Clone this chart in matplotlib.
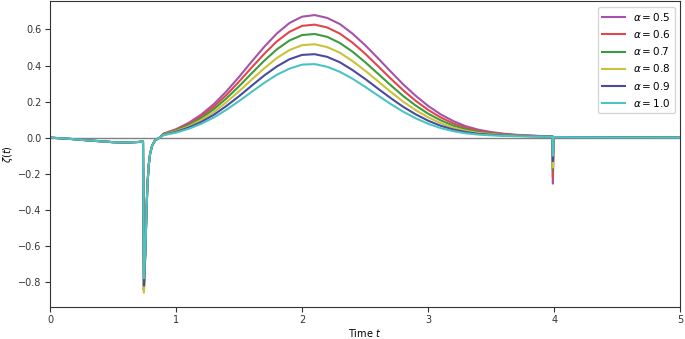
import matplotlib
matplotlib.use("Agg")
import matplotlib.pyplot as plt

alphas = [0.5, 0.6, 0.7, 0.8, 0.9, 1.0]
colors = ["#a553a8", "#e0474c", "#3e9a40", "#cbc23a", "#4a4aa0", "#4cc3c3"]

# slow dip before the first kick (shared by all curves)
t_pre = [0.0, 0.1, 0.2, 0.3, 0.4, 0.5, 0.6, 0.7, 0.738]
zeta_pre = [0.0, -0.004, -0.009, -0.015, -0.02, -0.025, -0.027, -0.024, -0.022]

# depth of the sharp drop near t = 0.745
t_tip = 0.745
tip_depth = [-0.84, -0.845, -0.85, -0.86, -0.82, -0.78]

# recovery after the drop
t_rec = [0.757, 0.765, 0.772, 0.782, 0.794, 0.81, 0.833, 0.87]
zeta_rec = [-0.62, -0.42, -0.28, -0.16, -0.09, -0.045, -0.015, 0.0]

# main hump
t_hump = [0.9, 1.0, 1.1, 1.2, 1.3, 1.4, 1.5, 1.6, 1.7, 1.8, 1.9, 2.0,
          2.1, 2.2, 2.3, 2.4, 2.5, 2.6, 2.7, 2.8, 2.9, 3.0, 3.1, 3.2,
          3.3, 3.4, 3.5, 3.6, 3.7, 3.8, 3.9]
hump_05 = [0.022, 0.047, 0.082, 0.128, 0.186, 0.257, 0.337, 0.422, 0.504, 0.578, 0.636, 0.671,
           0.680, 0.664, 0.630, 0.577, 0.513, 0.442, 0.369, 0.297, 0.233, 0.176, 0.129, 0.092,
           0.063, 0.044, 0.031, 0.022, 0.016, 0.012, 0.009]
hump_06 = [0.021, 0.043, 0.075, 0.118, 0.172, 0.237, 0.311, 0.389, 0.465, 0.534, 0.587, 0.620,
           0.627, 0.611, 0.577, 0.527, 0.466, 0.398, 0.330, 0.264, 0.205, 0.154, 0.112, 0.079,
           0.054, 0.037, 0.026, 0.019, 0.014, 0.011, 0.008]
hump_07 = [0.019, 0.040, 0.069, 0.108, 0.158, 0.218, 0.285, 0.357, 0.427, 0.490, 0.539, 0.569,
           0.575, 0.559, 0.525, 0.477, 0.419, 0.356, 0.293, 0.232, 0.179, 0.133, 0.096, 0.067,
           0.046, 0.031, 0.022, 0.016, 0.012, 0.010, 0.008]
hump_08 = [0.017, 0.036, 0.062, 0.098, 0.142, 0.197, 0.257, 0.322, 0.385, 0.442, 0.486, 0.513,
           0.518, 0.502, 0.471, 0.425, 0.372, 0.314, 0.256, 0.201, 0.153, 0.113, 0.080, 0.055,
           0.038, 0.026, 0.019, 0.014, 0.011, 0.009, 0.007]
hump_09 = [0.015, 0.032, 0.056, 0.087, 0.127, 0.176, 0.230, 0.288, 0.345, 0.395, 0.435, 0.459,
           0.463, 0.448, 0.418, 0.375, 0.326, 0.273, 0.221, 0.172, 0.130, 0.094, 0.066, 0.045,
           0.031, 0.021, 0.016, 0.012, 0.010, 0.008, 0.007]
hump_10 = [0.014, 0.028, 0.049, 0.077, 0.112, 0.155, 0.203, 0.254, 0.304, 0.349, 0.383, 0.405,
           0.408, 0.393, 0.365, 0.327, 0.282, 0.235, 0.188, 0.145, 0.108, 0.077, 0.053, 0.036,
           0.024, 0.017, 0.013, 0.010, 0.008, 0.007, 0.006]
humps = [hump_05, hump_06, hump_07, hump_08, hump_09, hump_10]

# second, smaller kick near t = 3.99 and the flat tail
t_kick = [3.985, 3.99, 3.995, 4.01, 4.2, 4.5, 5.0]
kick_depth = [-0.255, -0.22, -0.18, -0.165, -0.13, -0.10]
zeta_tail = [0.004, 0.003, 0.002, 0.001, 0.0]


def main() -> None:
    plt.rcParams["font.size"] = 7
    fig = plt.figure(figsize=(6.85, 3.39), dpi=100)
    ax = fig.add_axes([0.073, 0.094, 0.92, 0.902])

    ax.axhline(0, color="gray", linewidth=1.0)

    for a, c, tip, hump, kick in zip(alphas, colors, tip_depth, humps, kick_depth):
        t = t_pre + [t_tip] + t_rec + t_hump + t_kick
        z = zeta_pre + [tip] + zeta_rec + hump + [hump[-1] * 0.8, kick] + zeta_tail
        ax.plot(t, z, color=c, linewidth=1.5, label=rf"$\alpha={a:.1f}$")

    ax.set_xlim(0, 5)
    ax.set_ylim(-0.94, 0.756)
    ax.set_xticks([0, 1, 2, 3, 4, 5])
    ax.set_yticks([-0.8, -0.6, -0.4, -0.2, 0.0, 0.2, 0.4, 0.6])
    ax.set_xlabel(r"Time $t$", labelpad=1)
    ax.set_ylabel(r"$\zeta(t)$", labelpad=2)
    ax.tick_params(colors="#333333", pad=2.5)
    for s in ax.spines.values():
        s.set_color("#333333")
    ax.legend(loc="upper right", fontsize=7.5, handlelength=2.2)

    fig.savefig("out.png", dpi=100)


if __name__ == "__main__":
    main()
